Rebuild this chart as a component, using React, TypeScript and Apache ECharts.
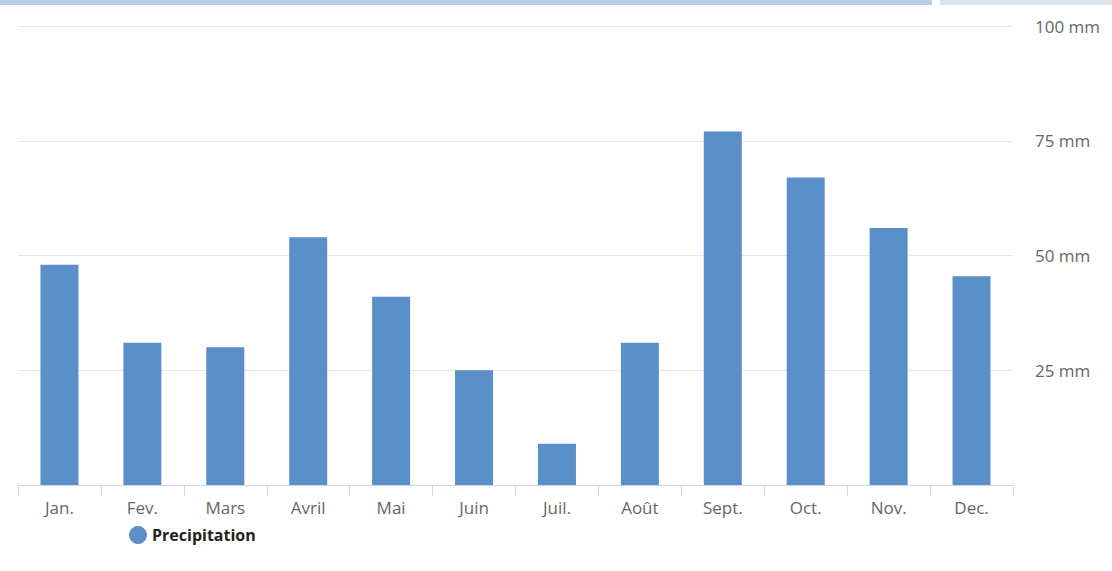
import React, { useEffect, useRef } from "react";
import * as echarts from "echarts";

const months = ["Jan.", "Fev.", "Mars", "Avril", "Mai", "Juin", "Juil.", "Août", "Sept.", "Oct.", "Nov.", "Dec."];
const precipitation = [48, 31, 30, 54, 41, 25, 9, 31, 77, 67, 56, 45.5];
const seriesName = "Precipitation";
const yMax = 100;
const yStep = 25;

export default function App() {
  const ref = useRef<HTMLDivElement>(null);
  useEffect(() => {
    if (!ref.current) return;
    const chart = echarts.init(ref.current, null, { renderer: "svg" });
    chart.setOption({
      animation: false,
      backgroundColor: "#ffffff",
      textStyle: { fontFamily: "Open Sans" },
      graphic: [
        { type: "rect", left: 0, top: 0, shape: { width: 932, height: 5 }, style: { fill: "#b8cce4" } },
        { type: "rect", left: 940, top: 0, shape: { width: 172, height: 5 }, style: { fill: "#dde6f1" } },
      ],
      legend: {
        left: 124,
        top: 521,
        icon: "circle",
        itemWidth: 18,
        itemHeight: 18,
        itemGap: 4,
        textStyle: { fontFamily: "Open Sans", fontWeight: "bold", fontSize: 16, color: "#222" },
        data: [seriesName],
      },
      grid: { left: 18, right: 99, top: 26, bottom: 86, containLabel: false },
      xAxis: {
        type: "category",
        data: months,
        boundaryGap: true,
        axisLine: { lineStyle: { color: "#ccd6eb", width: 1 } },
        axisTick: { show: true, length: 11, lineStyle: { color: "#ccd6eb" } },
        axisLabel: { color: "#666", fontSize: 17, margin: 14, fontFamily: "Open Sans" },
        splitLine: { show: false },
      },
      yAxis: {
        type: "value",
        position: "right",
        min: 0,
        max: yMax,
        interval: yStep,
        axisLine: { show: false },
        axisTick: { show: false },
        axisLabel: {
          color: "#666",
          fontSize: 17,
          margin: 22,
          fontFamily: "Open Sans",
          formatter: (v: number) => (v === 0 ? "" : `${v} mm`),
        },
        splitLine: { lineStyle: { color: "#e6e6e6", width: 1 } },
      },
      series: [
        {
          name: seriesName,
          type: "bar",
          data: precipitation,
          barWidth: 38,
          itemStyle: { color: "#5b8fc7" },
        },
      ],
    });
    return () => chart.dispose();
  }, []);
  return (
    <div
      ref={ref}
      style={{ position: "absolute", left: 0, top: 0, width: 1112, height: 571 }}
    />
  );
}
